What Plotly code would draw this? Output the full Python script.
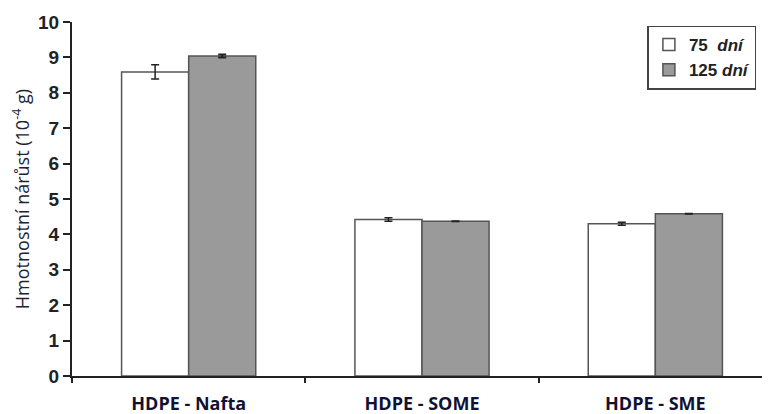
import plotly.graph_objects as go

categories = ["HDPE - Nafta", "HDPE - SOME", "HDPE - SME"]
vals_75 = [8.59, 4.42, 4.30]
err_75 = [0.20, 0.05, 0.04]
vals_125 = [9.04, 4.37, 4.58]
err_125 = [0.04, 0.0, 0.0]
series_names = ["<b>75</b>  <b><i>dní</i></b>", "<b>125</b> <b><i>dní</i></b>"]
y_ticks = list(range(0, 11))

fig = go.Figure()
fig.add_trace(go.Bar(
    x=categories, y=vals_75, name=series_names[0],
    marker=dict(color="white", line=dict(color="#555555", width=1.5)),
    error_y=dict(type="data", array=err_75, color="#222222", thickness=1.5, width=4),
))
fig.add_trace(go.Bar(
    x=categories, y=vals_125, name=series_names[1],
    marker=dict(color="#9a9a9a", line=dict(color="#555555", width=1.5)),
    error_y=dict(type="data", array=err_125, color="#222222", thickness=2, width=4),
))

fig.update_layout(
    width=770, height=414,
    margin=dict(l=64, r=6, t=14, b=46),
    paper_bgcolor="white", plot_bgcolor="white",
    barmode="group", bargap=0.425, bargroupgap=0,
    showlegend=True,
    legend=dict(
        x=0.822, y=0.99, xanchor="left", yanchor="top",
        bordercolor="#444444", borderwidth=1.5, bgcolor="white",
        font=dict(family="Arial", size=17, color="#222222"),
        itemwidth=30, tracegroupgap=0,
    ),
    xaxis=dict(
        type="category", showline=True, linecolor="#222222", linewidth=2,
        ticks="outside", tickson="boundaries", ticklen=5, tickcolor="#222222", tickwidth=1.5,
        tickfont=dict(family="Open Sans", size=18, color="#111133", weight="bold"),
        ticklabelstandoff=10,
        showgrid=False, zeroline=False, automargin=False,
    ),
    yaxis=dict(
        range=[0, 10], tickvals=y_ticks, showline=True, linecolor="#222222", linewidth=2,
        ticks="outside", ticklen=7, tickcolor="#222222", tickwidth=1.5,
        tickfont=dict(family="Liberation Sans", size=19, color="#222222", weight="bold"),
        showgrid=False, zeroline=False, automargin=False,
        title=dict(text="Hmotnostní nárůst (10<sup>-4</sup> g)",
                   font=dict(family="Open Sans", size=18, color="#222233"), standoff=13),
    ),
)

fig.write_html("out.html")
